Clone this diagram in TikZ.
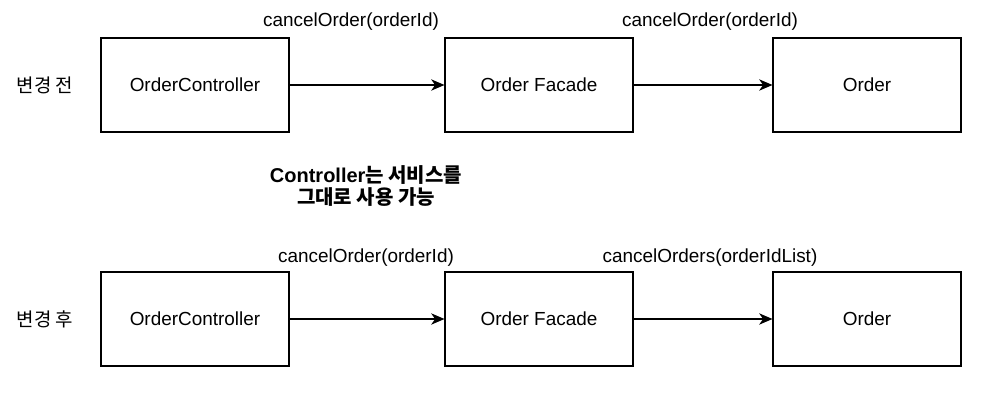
\documentclass[tikz,border=0pt]{standalone}
\usepackage{fontspec}
\setmainfont{Liberation Sans}
\newfontfamily\kofont{Noto Sans CJK KR}
\usetikzlibrary{arrows.meta}

\begin{document}
\begin{tikzpicture}
  [x=0.75pt,y=-0.75pt,font=\fontsize{14.2}{17}\selectfont,
   box/.style={draw,thick,minimum width=141pt,minimum height=70.5pt,inner sep=0pt},
   call/.style={inner sep=0pt}]
  \useasboundingbox (0,0) rectangle (1003,400);
  % before
  \node (pre) at (45,85) {\kofont 변경 전};
  \node[box] (c1) at (195,85) {OrderController};
  \node[box] (f1) at (539,85) {Order Facade};
  \node[box] (o1) at (867,85) {Order};
  \node[call] (l1) at (351,22) {cancelOrder(orderId)};
  \node[call] (l2) at (710,22) {cancelOrder(orderId)};
  % note
  \node[align=center,font=\fontsize{15}{16.5}\selectfont\bfseries] (note) at (366,186)
    {Controller{\kofont\bfseries 는 서비스를}\\{\kofont\bfseries 그대로 사용 가능}};
  % after
  \node (post) at (45,319) {\kofont 변경 후};
  \node[box] (c2) at (195,319) {OrderController};
  \node[box] (f2) at (539,319) {Order Facade};
  \node[box] (o2) at (867,319) {Order};
  \node[call] (l3) at (366,258) {cancelOrder(orderId)};
  \node[call] (l4) at (710,258) {cancelOrders(orderIdList)};
  \foreach \from/\to in {c1/f1,f1/o1,c2/f2,f2/o2}
    \draw[thick,-{Stealth[length=10pt,width=8.5pt,inset=3pt]}] (\from) -- (\to);
\end{tikzpicture}
\end{document}
